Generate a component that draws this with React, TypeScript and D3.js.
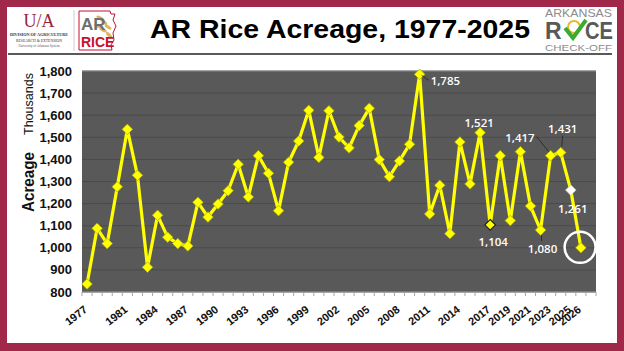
import React from 'react';
import * as d3 from 'd3';

// AR rice harvested acreage (thousands), 1977-2026
const years = d3.range(1977, 2027);
const acreage = [
  836, 1088, 1019, 1276, 1536, 1328, 912, 1147, 1048, 1019,
  1008, 1206, 1139, 1198, 1258, 1378, 1230, 1417, 1337, 1168,
  1387, 1483, 1622, 1409, 1620, 1501, 1452, 1553, 1631, 1399,
  1322, 1393, 1468, 1785, 1153, 1283, 1064, 1479, 1289, 1521,
  1104, 1417, 1123, 1435, 1189, 1080, 1417, 1431, 1261, 1000,
];
const tickYears = [1977, 1981, 1984, 1987, 1990, 1993, 1996, 1999, 2002, 2005,
  2008, 2011, 2014, 2017, 2019, 2021, 2023, 2025, 2026];
const labeledYears = [2010, 2016, 2017, 2022, 2023, 2024, 2025];
const yTicks = [800, 900, 1000, 1100, 1200, 1300, 1400, 1500, 1600, 1700, 1800];

// label placement relative to the point: [dx, dy, anchor, leader]
const labelPos: Record<number, [number, number, string, boolean]> = {
  2010: [11, 7, 'start', true],
  2016: [-1, -10, 'middle', false],
  2017: [3, 17, 'middle', false],
  2022: [2, 19, 'middle', true],
  2023: [-16, -18, 'end', true],
  2024: [2, -24, 'middle', true],
  2025: [2, 19, 'middle', false],
};

const W = 624, H = 351;
const plot = { left: 82, right: 596, top: 71, bottom: 292 };
const maroon = '#A0294A';
const fmt = d3.format(',');

const diamond = (cx: number, cy: number, r: number) =>
  `M${cx},${cy - r}L${cx + r},${cy}L${cx},${cy + r}L${cx - r},${cy}Z`;

export default function App() {
  const x = d3.scaleBand<string>()
    .domain([...years.map(String), 'end'])
    .range([plot.left, plot.right]);
  const cx = (yr: number) => (x(String(yr)) as number) + x.bandwidth() / 2;
  const y = d3.scaleLinear().domain([800, 1800]).range([plot.bottom, plot.top]);

  const data = years.map((yr, i) => ({ yr, v: acreage[i] }));
  const line = d3.line<{ yr: number; v: number }>()
    .x(d => cx(d.yr))
    .y(d => y(d.v));

  const boundaries = x.domain().map(d => x(d) as number).concat([plot.right]);
  const last = data[data.length - 1];

  return (
    <svg width={W} height={H} style={{ position: 'absolute', left: 0, top: 0 }}
      fontFamily="'Liberation Sans', Arial, sans-serif">
      {/* frame */}
      <rect x={0} y={0} width={W} height={H} fill={maroon} />
      <rect x={7} y={7} width={610} height={336} fill="#fff" />
      <line x1={8} x2={612} y1={54} y2={54} stroke="#222" strokeWidth={1.5} />

      {/* left logos */}
      <text x={39} y={27} textAnchor="middle" fontFamily="'Liberation Serif', serif"
        fontSize={18} fill="#9D2235">U/A</text>
      <text x={39} y={36} textAnchor="middle" fontFamily="'Liberation Serif', serif"
        fontSize={4.2} fontWeight="bold" fill="#333">DIVISION OF AGRICULTURE</text>
      <text x={39} y={42} textAnchor="middle" fontFamily="'Liberation Serif', serif"
        fontSize={3.8} fill="#333">RESEARCH &amp; EXTENSION</text>
      <text x={39} y={47} textAnchor="middle" fontFamily="'Liberation Serif', serif"
        fontSize={3.3} fill="#555">University of Arkansas System</text>
      <line x1={74} x2={74} y1={10} y2={51} stroke="#ccc" strokeWidth={1} />
      <path d="M79,11 L110,11 L111,14 L115,14 L113,20 L116,26 L113,33 L114,40 L111,45 L112,50 L79,50 Z"
        fill="none" stroke="#C8102E" strokeWidth={1} />
      {[[100, 18, 30], [104, 22, 40], [108, 27, 35], [103, 30, 25], [109, 35, 45], [98, 26, 20]].map(([ex, ey, rot], i) => (
        <ellipse key={i} cx={ex} cy={ey} rx={4} ry={1.6} fill="#D9A646" opacity={0.85}
          transform={`rotate(${rot},${ex},${ey})`} />
      ))}
      <text x={81} y={30} fontSize={17} fontWeight="bold" fill="#6D6E71">AR</text>
      <text x={81} y={47} fontSize={14} fontWeight="bold" fill="#C8102E">RICE</text>

      {/* title */}
      <text x={150} y={38} fontSize={25} fontWeight="bold" fill="#000"
        textLength={380} lengthAdjust="spacingAndGlyphs">AR Rice Acreage, 1977-2025</text>

      {/* right logo */}
      <text x={545} y={17} fontSize={11.5} fill="#8C8C8C" textLength={67}
        lengthAdjust="spacingAndGlyphs">ARKANSAS</text>
      <text x={545} y={39} fontSize={23} fontWeight="bold" fill="#58595B">R</text>
      <circle cx={574} cy={27} r={6} fill="none" stroke="#E8B923" strokeWidth={2} />
      <path d="M565,28 L573,38 L586,20" fill="none" stroke="#3AAA35" strokeWidth={4} />
      <text x={585} y={39} fontSize={23} fontWeight="bold" fill="#58595B"
        textLength={28} lengthAdjust="spacingAndGlyphs">CE</text>
      <text x={545} y={51} fontSize={9.5} fill="#8C8C8C" textLength={67}
        lengthAdjust="spacingAndGlyphs">CHECK-OFF</text>

      {/* plot area */}
      <rect x={plot.left} y={plot.top} width={plot.right - plot.left}
        height={plot.bottom - plot.top} fill="#595959" />
      {yTicks.map(t => (
        <line key={t} x1={plot.left} x2={plot.right} y1={y(t)} y2={y(t)}
          stroke="#4A4A4A" strokeWidth={1} />
      ))}
      <line x1={plot.left} x2={plot.right} y1={plot.top} y2={plot.top} stroke="#A6A6A6" strokeWidth={0.8} />
      <line x1={plot.left} x2={plot.right} y1={plot.bottom} y2={plot.bottom} stroke="#A6A6A6" strokeWidth={1} />
      {boundaries.map((b, i) => (
        <line key={i} x1={b} x2={b} y1={plot.bottom} y2={plot.bottom + 4} stroke="#A6A6A6" strokeWidth={1} />
      ))}

      {/* y axis */}
      {yTicks.map(t => (
        <text key={t} x={72} y={y(t)} dy="0.35em" textAnchor="end" fontSize={13}
          fontWeight="bold" fill="#111">{fmt(t)}</text>
      ))}
      <text transform="translate(34,182) rotate(-90)" textAnchor="middle" fontSize={17}
        fontWeight="bold" fill="#111" textLength={60} lengthAdjust="spacingAndGlyphs">Acreage</text>
      <text transform="translate(33,104) rotate(-90)" textAnchor="middle" fontSize={12}
        fill="#111" textLength={62} lengthAdjust="spacingAndGlyphs">Thousands</text>

      {/* x axis labels */}
      {tickYears.map(t => (
        <text key={t} transform={`translate(${cx(t) + 1},311) rotate(-38)`} textAnchor="end"
          fontSize={11} fontWeight="bold" fill="#111">{t}</text>
      ))}

      {/* series */}
      <path d={line(data) as string} fill="none" stroke="#FFFF00" strokeWidth={3.2} strokeLinejoin="round" />
      {data.map(d => (
        <path key={d.yr} d={diamond(cx(d.yr), y(d.v), 5.3)}
          fill={d.yr === 2025 ? '#FFFFFF' : '#FFFF00'}
          stroke={d.yr === 2017 ? '#222' : d.yr === 2025 ? '#BBB' : '#A8A800'}
          strokeWidth={d.yr === 2017 ? 1.2 : 0.7} />
      ))}
      <circle cx={cx(last.yr) - 0.8} cy={y(last.v) - 0.5} r={15.5} fill="none" stroke="#fff" strokeWidth={2.5} />

      {/* data labels */}
      {labeledYears.map(yr => {
        const d = data.find(e => e.yr === yr)!;
        const [dx, dy, anchor, leader] = labelPos[yr];
        const px = cx(yr), py = y(d.v);
        const lx = px + dx, ly = py + dy;
        let leaderPath = '';
        if (leader) {
          if (anchor === 'start') leaderPath = `M${px + 2},${py + 1}L${lx - 2},${ly - 1}`;
          else if (anchor === 'end') leaderPath = `M${lx + 2},${ly - 1}L${px - 2},${py - 4}`;
          else if (dy < 0) leaderPath = `M${lx},${ly + 7}L${px + 1},${py - 6}`;
          else leaderPath = `M${px + 1},${py + 5}L${px + 1},${ly - 8}`;
        }
        return (
          <g key={yr}>
            {leader && <path d={leaderPath} stroke="#222" strokeWidth={0.8} fill="none" />}
            <text x={lx} y={ly} dy="0.35em" textAnchor={anchor as any} fontSize={11.5}
              fontFamily="'Open Sans', sans-serif" fontWeight={600} fill="#fff">{fmt(d.v)}</text>
          </g>
        );
      })}
    </svg>
  );
}
